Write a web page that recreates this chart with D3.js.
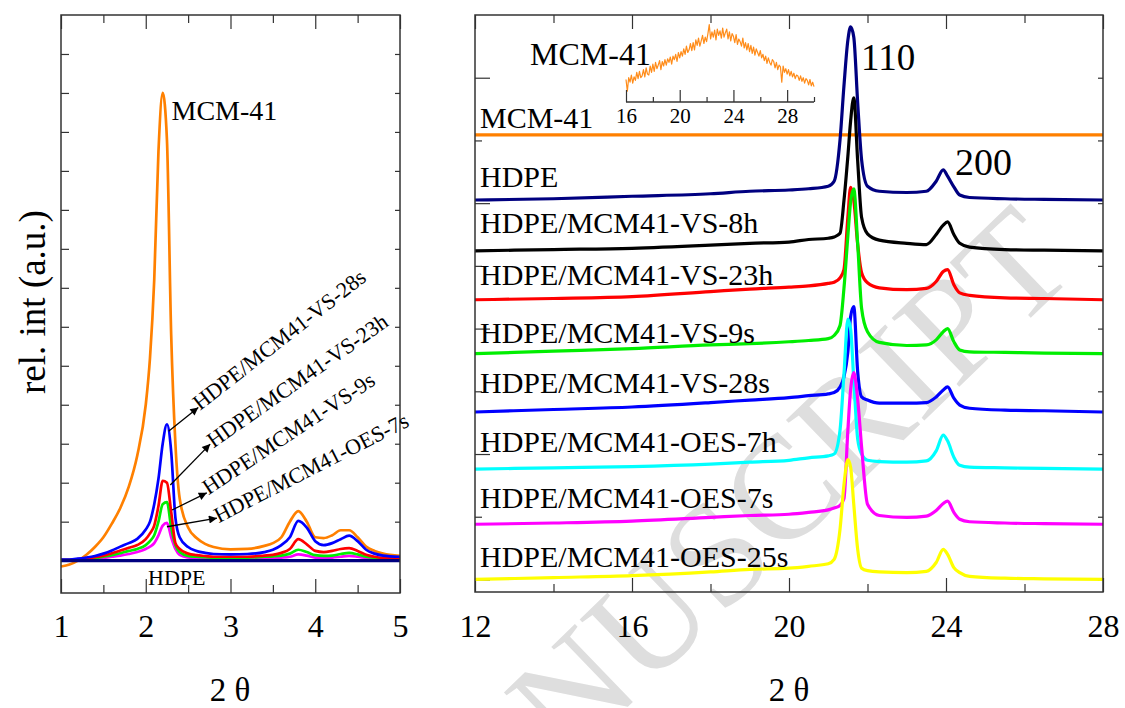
<!DOCTYPE html>
<html>
<head>
<meta charset="utf-8">
<script src="https://cdn.jsdelivr.net/npm/d3@7"></script>
<style>
  body { margin: 0; background: #fff; }
  svg { display: block; }
</style>
</head>
<body>
<div id="chart"></div>
<script>
// ---- left panel: small angle region (2 theta 1..5) ----
const leftTheta = [1.0,1.1,1.2,1.3,1.4,1.5,1.6,1.7,1.8,1.9,2.0,2.05,2.1,2.15,2.2,2.25,2.3,2.35,2.4,2.5,
  2.6,2.7,2.8,3.0,3.2,3.4,3.5,3.6,3.7,3.8,3.9,4.0,4.1,4.2,4.3,4.4,4.5,4.6,4.7,4.8,5.0];
const leftMCM41 = [-0.15,-0.1,0.0,0.15,0.35,0.6,0.95,1.35,1.9,2.7, 4.0,5.2,7.2,10.5,12.0, 10.8,5.8,3.0,1.6,0.85,
  0.58,0.43,0.35,0.29,0.3, 0.38,0.45,0.6,1.0,1.27, 1.0,0.6,0.58,0.65,0.78, 0.78,0.6,0.36,0.25,0.18, 0.12];
const leftVS28s = [0.03,0.03,0.05,0.08,0.12,0.18,0.26,0.36,0.45,0.56, 0.8,1.0,1.45,2.1,3.0, 3.5,2.8,1.1,0.6,0.35,
  0.25,0.2,0.17,0.16,0.17, 0.22,0.28,0.4,0.6,1.02, 0.85,0.5,0.4,0.45,0.55, 0.64,0.5,0.28,0.18,0.13, 0.1];
const leftVS23h = [0.02,0.02,0.04,0.06,0.09,0.13,0.19,0.26,0.33,0.4, 0.55,0.7,0.9,1.4,2.05, 2.0,1.25,0.45,0.3,0.18,
  0.14,0.12,0.1,0.1,0.1, 0.13,0.15,0.2,0.3,0.55, 0.42,0.25,0.22,0.25,0.3, 0.32,0.25,0.15,0.1,0.07, 0.05];
const leftVS9s = [0.02,0.02,0.03,0.04,0.06,0.1,0.14,0.19,0.25,0.3, 0.4,0.5,0.65,1.0,1.45, 1.5,0.85,0.4,0.22,0.12,
  0.1,0.09,0.08,0.08,0.08, 0.1,0.11,0.13,0.18,0.28, 0.22,0.14,0.12,0.13,0.17, 0.2,0.16,0.1,0.07,0.05, 0.04];
const leftOES7s = [0.0,0.0,0.02,0.03,0.05,0.07,0.1,0.13,0.17,0.22, 0.3,0.36,0.45,0.65,0.9, 0.97,0.6,0.3,0.15,0.08,
  0.06,0.05,0.05,0.05,0.05, 0.06,0.07,0.08,0.1,0.16, 0.13,0.08,0.07,0.08,0.1, 0.12,0.1,0.07,0.05,0.04, 0.03];
const leftHDPE = leftTheta.map(() => 0);
const leftTicks = [1, 2, 3, 4, 5];
const leftMinorTicks = [1.5, 2.5, 3.5, 4.5];

// arrows + rotated labels on the left panel: [theta, value] of arrow start, arrow end, label start
const leftNotes = [
  {label: "HDPE/MCM41-VS-28s", from: [2.27, 3.32], to: [2.62, 3.93], at: [2.64, 3.84], angle: 38},
  {label: "HDPE/MCM41-VS-23h", from: [2.29, 1.94], to: [2.76, 2.99], at: [2.80, 2.88], angle: 35},
  {label: "HDPE/MCM41-VS-9s",  from: [2.31, 1.30], to: [2.72, 1.74], at: [2.74, 1.68], angle: 33.5},
  {label: "HDPE/MCM41-OES-7s", from: [2.25, 0.87], to: [2.84, 1.09], at: [2.86, 0.96], angle: 27}
];

// ---- right panel: wide angle region (2 theta 12..28), stacked ----
const rightTheta = [12,14,16,18,19,20,20.5,21.0,21.15,21.3,21.4,21.5,21.57,21.65,21.75,21.85,22.0,22.3,
  23.0,23.5,23.75,23.93,24.04,24.2,24.35,24.6,25.5,26.5,28];
const rightNames = ["MCM-41","HDPE","HDPE/MCM41-VS-8h","HDPE/MCM41-VS-23h","HDPE/MCM41-VS-9s",
  "HDPE/MCM41-VS-28s","HDPE/MCM41-OES-7h","HDPE/MCM41-OES-7s","HDPE/MCM41-OES-25s"];
const rightColors = ["#ff8000","#000080","#000000","#ff0000","#00ee00","#0000ff","#00ffff","#ff00ff","#ffff00"];
const rightOffsets = [709, 605, 524, 446, 360, 267, 176, 88, 0];
const rightMCM41 = rightTheta.map(() => 0);
const rightHDPE  = [0,2,6,10,14, 16,18,22,30,96, 182,255,276,260,155, 64,22,14,12,14, 30,48,38,21,8, 4,2,1,0];
const rightVS8h  = [0,2,4,9,12, 14,18,20,22,28, 80,151,207,244,143, 53,27,17,12,10, 26,41,46,26,12, 6,2,1,0];
const rightVS23h = [0,2,5,13,17, 20,22,26,28,35, 48,132,179,159,88, 43,27,19,16,18, 29,45,48,24,11, 7,3,2,0];
const rightVS9s  = [0,4,8,14,16, 19,21,24,29,45, 104,188,242,263,175, 72,35,18,13,14, 22,35,40,19,6, 3,2,1,0];
const rightVS28s = [0,4,8,15,19, 23,26,29,31,40, 56,96,152,168,64, 24,19,14,14,15, 24,35,40,22,11, 6,3,2,0];
const rightOES7h = [0,2,4,8,11, 14,18,21,24,62, 151,239,223,143,48, 24,14,12,11,13, 29,54,45,19,6, 3,2,1,0];
const rightOES7s = [0,2,5,11,14, 16,19,23,26,30, 41,150,215,242,199, 123,32,14,11,13, 22,33,37,19,8, 4,2,1,0];
const rightOES25s= [0,3,6,12,16, 18,21,25,32,80, 151,191,179,120,48, 18,14,12,11,13, 27,48,40,19,11, 5,2,1,0];
const rightTicks = [12, 16, 20, 24, 28];
const rightMinorTicks = [14, 18, 22, 26];

// ---- inset: MCM-41 amorphous halo, sampled every 0.1 deg from 16 ----
const insetStart = 16, insetStep = 0.1;
const insetMCM41 = [
  25,12,27,22,30,21,28,24,33,26,
  34,27,29,36,28,38,31,30,40,33,
  42,34,44,37,41,46,36,45,40,47,
  41,48,44,50,42,51,47,53,45,55,
  49,56,51,59,53,62,55,58,65,57,
  66,58,69,63,71,62,68,74,65,72,
  67,76,86,70,78,72,80,69,81,74,
  79,71,82,72,77,81,70,78,68,76,
  73,66,75,64,70,67,62,71,60,66,
  58,65,56,63,54,61,52,59,55,51,
  57,49,53,46,51,43,49,44,41,47,
  45,38,44,36,41,39,22,40,33,37,
  31,36,29,34,28,32,26,30,29,24,
  29,23,27,21,26,24,19,25,18,22,
  17];
const insetTicks = [16, 20, 24, 28];
const insetMinorTicks = [18, 22, 26, 30];

const serif = "'Liberation Serif','Times New Roman',serif";
const frameColor = "#333";

const svg = d3.select("#chart").append("svg")
  .attr("width", 1125)
  .attr("height", 708)
  .style("font-family", serif);

// watermark of the accepted manuscript
svg.append("text")
  .attr("transform", "translate(1079,271) rotate(-44)")
  .attr("text-anchor", "end")
  .attr("font-size", 147)
  .attr("fill", "#dedede")
  .text("ACCEPTED MANUSCRIPT");

const defs = svg.append("defs");
defs.append("marker")
  .attr("id", "head")
  .attr("viewBox", "0 0 10 10")
  .attr("refX", 10).attr("refY", 5)
  .attr("markerUnits", "userSpaceOnUse")
  .attr("markerWidth", 12).attr("markerHeight", 8)
  .attr("orient", "auto")
  .append("path").attr("d", "M0,0L10,5L0,10z").attr("fill", "#000");

function styleAxis(g, size) {
  g.attr("font-family", serif).attr("font-size", size).attr("color", frameColor);
  g.select(".domain").remove();
  g.selectAll("line").attr("stroke-width", 1.2);
}

// ================= LEFT PANEL =================
const xL = d3.scaleLinear().domain([1, 5]).range([61, 400]);
const yL = d3.scaleLinear().domain([-0.83, 14]).range([593, 15]);

defs.append("clipPath").attr("id", "clipL")
  .append("rect").attr("x", 61).attr("y", 15).attr("width", 339).attr("height", 578);

svg.append("g").attr("transform", "translate(0,593)")
  .call(d3.axisBottom(xL).tickValues(leftTicks).tickSizeInner(-14).tickSizeOuter(0).tickFormat(d3.format("d")))
  .call(g => styleAxis(g, 32))
  .call(g => g.selectAll("text").attr("y", 44).attr("dy", null).attr("fill", "#000"));
svg.append("g").attr("transform", "translate(0,593)")
  .call(d3.axisBottom(xL).tickValues(leftMinorTicks).tickSizeInner(-8).tickSizeOuter(0).tickFormat(""))
  .call(g => styleAxis(g, 32));
svg.append("g").attr("transform", "translate(0,15)")
  .call(d3.axisTop(xL).tickValues(leftTicks).tickSizeInner(-14).tickSizeOuter(0).tickFormat(""))
  .call(g => styleAxis(g, 32));
svg.append("g").attr("transform", "translate(0,15)")
  .call(d3.axisTop(xL).tickValues(leftMinorTicks).tickSizeInner(-8).tickSizeOuter(0).tickFormat(""))
  .call(g => styleAxis(g, 32));
svg.append("g").attr("transform", "translate(61,0)")
  .call(d3.axisLeft(yL).tickValues(d3.range(0, 14)).tickSizeInner(-8).tickSizeOuter(0).tickFormat(""))
  .call(g => styleAxis(g, 32));
svg.append("g").attr("transform", "translate(400,0)")
  .call(d3.axisRight(yL).tickValues(d3.range(0, 14)).tickSizeInner(-5).tickSizeOuter(0).tickFormat(""))
  .call(g => styleAxis(g, 32));

const leftSeries = [
  {values: leftMCM41, color: "#ff8000", width: 2.7},
  {values: leftOES7s, color: "#ff00ff", width: 2.7},
  {values: leftVS9s,  color: "#00ee00", width: 2.7},
  {values: leftVS23h, color: "#ff0000", width: 2.7},
  {values: leftVS28s, color: "#0000ff", width: 2.7},
  {values: leftHDPE,  color: "#000080", width: 3.4}
];
const lineL = d3.line()
  .x(d => xL(d[0]))
  .y(d => yL(d[1]))
  .curve(d3.curveMonotoneX);

svg.append("g").attr("clip-path", "url(#clipL)")
  .selectAll("path")
  .data(leftSeries)
  .join("path")
  .attr("fill", "none")
  .attr("stroke", d => d.color)
  .attr("stroke-width", d => d.width)
  .attr("stroke-linejoin", "round")
  .attr("d", d => lineL(leftTheta.map((t, i) => [t, d.values[i]])));

svg.append("rect")
  .attr("x", 61).attr("y", 15).attr("width", 339).attr("height", 578)
  .attr("fill", "none").attr("stroke", frameColor).attr("stroke-width", 1.5);

// arrows and rotated labels
svg.append("g").selectAll("line")
  .data(leftNotes)
  .join("line")
  .attr("x1", d => xL(d.from[0])).attr("y1", d => yL(d.from[1]))
  .attr("x2", d => xL(d.to[0])).attr("y2", d => yL(d.to[1]))
  .attr("stroke", "#000").attr("stroke-width", 1.3)
  .attr("marker-end", "url(#head)");

svg.append("g").selectAll("text")
  .data(leftNotes)
  .join("text")
  .attr("transform", d => "translate(" + xL(d.at[0]) + "," + yL(d.at[1]) + ") rotate(" + (-d.angle) + ")")
  .attr("font-size", 22)
  .attr("fill", "#000")
  .text(d => d.label);

svg.append("text")
  .attr("x", xL(2.21) + 8).attr("y", 120)
  .attr("font-size", 28).text("MCM-41");
svg.append("text")
  .attr("x", 148).attr("y", 585)
  .attr("font-size", 22).text("HDPE");

svg.append("text")
  .attr("transform", "translate(45,302) rotate(-90)")
  .attr("text-anchor", "middle")
  .attr("font-size", 37).text("rel. int (a.u.)");
svg.append("text")
  .attr("x", 230).attr("y", 701)
  .attr("text-anchor", "middle")
  .attr("font-size", 33).text("2 \u03b8");

// ================= RIGHT PANEL =================
const xR = d3.scaleLinear().domain([12, 28]).range([475, 1103]);
const yR = d3.scaleLinear().domain([-20, 900]).range([592, 15]);

defs.append("clipPath").attr("id", "clipR")
  .append("rect").attr("x", 475).attr("y", 15).attr("width", 628).attr("height", 577);

svg.append("g").attr("transform", "translate(0,592)")
  .call(d3.axisBottom(xR).tickValues(rightTicks).tickSizeInner(-14).tickSizeOuter(0).tickFormat(d3.format("d")))
  .call(g => styleAxis(g, 32))
  .call(g => g.selectAll("text").attr("y", 45).attr("dy", null).attr("fill", "#000"));
svg.append("g").attr("transform", "translate(0,592)")
  .call(d3.axisBottom(xR).tickValues(rightMinorTicks).tickSizeInner(-8).tickSizeOuter(0).tickFormat(""))
  .call(g => styleAxis(g, 32));
svg.append("g").attr("transform", "translate(0,15)")
  .call(d3.axisTop(xR).tickValues(rightTicks).tickSizeInner(-14).tickSizeOuter(0).tickFormat(""))
  .call(g => styleAxis(g, 32));
svg.append("g").attr("transform", "translate(0,15)")
  .call(d3.axisTop(xR).tickValues(rightMinorTicks).tickSizeInner(-8).tickSizeOuter(0).tickFormat(""))
  .call(g => styleAxis(g, 32));
svg.append("g").attr("transform", "translate(475,0)")
  .call(d3.axisLeft(yR).tickValues([0, 200, 400, 600, 800]).tickSizeInner(-15).tickSizeOuter(0).tickFormat(""))
  .call(g => styleAxis(g, 32));
svg.append("g").attr("transform", "translate(475,0)")
  .call(d3.axisLeft(yR).tickValues([100, 300, 500, 700]).tickSizeInner(-7).tickSizeOuter(0).tickFormat(""))
  .call(g => styleAxis(g, 32));
svg.append("g").attr("transform", "translate(1103,0)")
  .call(d3.axisRight(yR).tickValues(d3.range(0, 900, 100)).tickSizeInner(-5).tickSizeOuter(0).tickFormat(""))
  .call(g => styleAxis(g, 32));

const rightValues = [rightMCM41, rightHDPE, rightVS8h, rightVS23h, rightVS9s, rightVS28s, rightOES7h, rightOES7s, rightOES25s];
const rightSeries = rightNames.map((name, k) => ({
  name: name, color: rightColors[k], offset: rightOffsets[k], values: rightValues[k]
}));
const lineR = d3.line()
  .x(d => xR(d[0]))
  .y(d => yR(d[1]))
  .curve(d3.curveMonotoneX);

svg.append("g").attr("clip-path", "url(#clipR)")
  .selectAll("path")
  .data(rightSeries)
  .join("path")
  .attr("fill", "none")
  .attr("stroke", d => d.color)
  .attr("stroke-width", 3.2)
  .attr("stroke-linejoin", "round")
  .attr("d", d => lineR(rightTheta.map((t, i) => [t, d.offset + d.values[i]])));

// series names sit just above each trace
const rightLabelY = [128, 187, 233, 285, 343, 393, 452, 508, 567];
svg.append("g").selectAll("text")
  .data(rightSeries)
  .join("text")
  .attr("x", 480)
  .attr("y", (d, i) => rightLabelY[i])
  .attr("font-size", 30)
  .attr("fill", "#000")
  .text(d => d.name);

svg.append("text").attr("x", 861).attr("y", 70).attr("font-size", 37).text("110");
svg.append("text").attr("x", 955).attr("y", 175).attr("font-size", 38).text("200");

svg.append("rect")
  .attr("x", 475).attr("y", 15).attr("width", 628).attr("height", 577)
  .attr("fill", "none").attr("stroke", frameColor).attr("stroke-width", 1.5);

svg.append("text")
  .attr("x", 789).attr("y", 701)
  .attr("text-anchor", "middle")
  .attr("font-size", 33).text("2 \u03b8");

// ---- inset ----
const xI = d3.scaleLinear().domain([16, 30]).range([626, 814]);
const yI = d3.scaleLinear().domain([0, 80]).range([102, 30]);

svg.append("path")
  .attr("fill", "none")
  .attr("stroke", "#ff8c1a")
  .attr("stroke-width", 1.2)
  .attr("stroke-linejoin", "round")
  .attr("d", d3.line()
    .x((d, i) => xI(insetStart + i * insetStep))
    .y(d => yI(d))(insetMCM41));

svg.append("g").attr("transform", "translate(0,102)")
  .call(d3.axisBottom(xI).tickValues(insetTicks).tickSizeInner(-12).tickSizeOuter(0).tickFormat(d3.format("d")))
  .call(g => styleAxis(g, 21))
  .call(g => g.selectAll("text").attr("y", 21).attr("dy", null).attr("fill", "#000"));
svg.append("g").attr("transform", "translate(0,102)")
  .call(d3.axisBottom(xI).tickValues(insetMinorTicks).tickSizeInner(-5).tickSizeOuter(0).tickFormat(""))
  .call(g => styleAxis(g, 21));
svg.append("line")
  .attr("x1", xI(16)).attr("x2", xI(30)).attr("y1", 102).attr("y2", 102)
  .attr("stroke", frameColor).attr("stroke-width", 1.3);

svg.append("text").attr("x", 530).attr("y", 65).attr("font-size", 32).text("MCM-41");
</script>
</body>
</html>
